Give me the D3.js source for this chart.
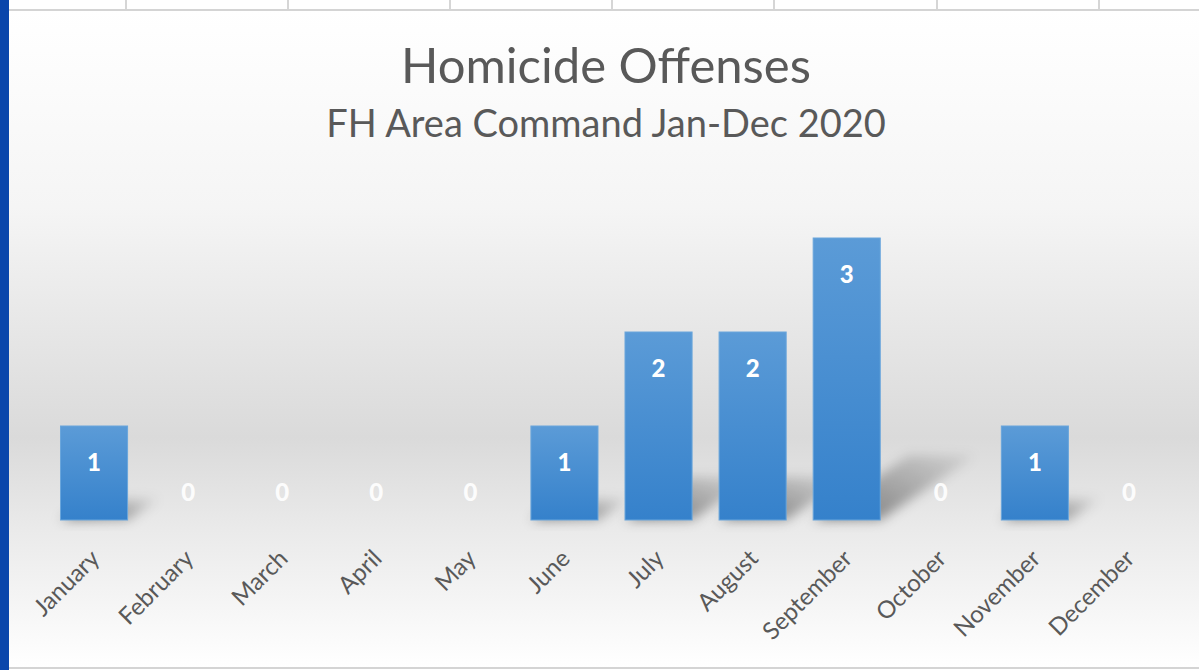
<!DOCTYPE html>
<html>
<head>
<meta charset="UTF-8">
<title>Homicide Offenses</title>
<script src="https://d3js.org/d3.v7.min.js"></script>
<style>
  body { margin: 0; background: #fff; }
  .tick line { visibility: hidden; }
  .tick text { fill: #595959; font-family: Lato, "Open Sans", sans-serif; font-size: 24px; }
</style>
</head>
<body>
<script>
var months = ["January","February","March","April","May","June","July","August","September","October","November","December"];
var counts = [1,0,0,0,0,1,2,2,3,0,1,0];
var title = "Homicide Offenses";
var subtitle = "FH Area Command Jan-Dec 2020";
var gridCols = [126, 288, 450, 612, 774, 937, 1099];

var W = 1199, H = 670;
var base = 520;

var svg = d3.select("body").append("svg")
    .attr("width", W)
    .attr("height", H);

var defs = svg.append("defs");

// chart area background (white -> gray -> white)
var bg = defs.append("linearGradient").attr("id","bg").attr("x1",0).attr("y1",0).attr("x2",0).attr("y2",1);
bg.append("stop").attr("offset","0%").attr("stop-color","#ffffff");
bg.append("stop").attr("offset","30%").attr("stop-color","#f5f5f5");
bg.append("stop").attr("offset","65%").attr("stop-color","#dadada");
bg.append("stop").attr("offset","78%").attr("stop-color","#e9e9e9");
bg.append("stop").attr("offset","100%").attr("stop-color","#ffffff");

var barGrad = defs.append("linearGradient").attr("id","barGrad").attr("x1",0).attr("y1",0).attr("x2",0).attr("y2",1);
barGrad.append("stop").attr("offset","0%").attr("stop-color","#5b9bd7");
barGrad.append("stop").attr("offset","100%").attr("stop-color","#3581cb");

var shGrad = defs.append("linearGradient").attr("id","shGrad").attr("x1",0).attr("y1",1).attr("x2",1).attr("y2",0);
shGrad.append("stop").attr("offset","0%").attr("stop-color","#000").attr("stop-opacity",0.5);
shGrad.append("stop").attr("offset","100%").attr("stop-color","#000").attr("stop-opacity",0.05);

defs.append("filter").attr("id","blur").attr("x","-50%").attr("y","-50%").attr("width","200%").attr("height","200%")
  .append("feGaussianBlur").attr("stdDeviation", 6);

svg.append("rect")
    .attr("x", 9).attr("y", 10)
    .attr("width", W - 9).attr("height", H - 12)
    .attr("fill", "url(#bg)");

// spreadsheet strip at top
svg.append("rect").attr("x", 9).attr("y", 0).attr("width", W - 9).attr("height", 10).attr("fill", "#fff");
svg.selectAll(".gcol").data(gridCols).enter().append("line")
    .attr("class","gcol")
    .attr("x1", function(d){ return d; }).attr("x2", function(d){ return d; })
    .attr("y1", 0).attr("y2", 10)
    .attr("stroke", "#d6d6d6").attr("stroke-width", 2);
svg.append("line").attr("x1", 9).attr("x2", W).attr("y1", 10).attr("y2", 10)
    .attr("stroke", "#d4d4d4").attr("stroke-width", 2);
svg.append("line").attr("x1", 9).attr("x2", W).attr("y1", 668).attr("y2", 668)
    .attr("stroke", "#d4d4d4").attr("stroke-width", 2);

// blue frame on the left
svg.append("rect").attr("x", 0).attr("y", 0).attr("width", 9).attr("height", H).attr("fill", "#0a46ab");

var x = d3.scaleBand()
    .domain(months)
    .range([47, 1176])
    .paddingInner(0.287)
    .paddingOuter(0.1435);

var y = d3.scaleLinear()
    .domain([0, 3])
    .range([base, 238]);

// titles
svg.append("text")
    .attr("x", 606).attr("y", 83)
    .attr("text-anchor", "middle")
    .style("font-family", "Lato, 'Open Sans', sans-serif")
    .style("font-size", "49px")
    .style("fill", "#595959")
    .text(title);

svg.append("text")
    .attr("x", 606).attr("y", 137)
    .attr("text-anchor", "middle")
    .style("font-family", "Lato, 'Open Sans', sans-serif")
    .style("font-size", "38px")
    .style("fill", "#595959")
    .text(subtitle);

var data = months.map(function(m, i){ return {month: m, value: counts[i]}; });

// perspective shadows
svg.selectAll(".shadow")
    .data(data.filter(function(d){ return d.value > 0; }))
    .enter().append("polygon")
    .attr("class","shadow")
    .attr("filter","url(#blur)")
    .attr("fill","url(#shGrad)")
    .attr("points", function(d){
        var x0 = x(d.month), x1 = x0 + x.bandwidth();
        var h = base - y(d.value);
        var dx = h * 0.34, dy = h * 0.23;
        return [[x0, base], [x1, base], [x1 + dx, base - dy], [x0 + dx, base - dy]].join(" ");
    });

svg.selectAll(".bar")
    .data(data)
    .enter().append("rect")
    .attr("class","bar")
    .attr("x", function(d){ return x(d.month); })
    .attr("y", function(d){ return y(d.value); })
    .attr("width", x.bandwidth())
    .attr("height", function(d){ return base - y(d.value); })
    .attr("fill", "url(#barGrad)")
    .attr("stroke", "#6aa6dc")
    .attr("stroke-width", 1);

svg.selectAll(".lbl")
    .data(data)
    .enter().append("text")
    .attr("class","lbl")
    .attr("x", function(d){ return x(d.month) + x.bandwidth() / 2; })
    .attr("y", function(d){ return d.value > 0 ? y(d.value) + 45 : base - 19; })
    .attr("text-anchor", "middle")
    .style("font-family", "Lato, 'Open Sans', sans-serif")
    .style("font-weight", "900")
    .style("font-size", "24px")
    .style("fill", "#ffffff")
    .style("fill-opacity", function(d){ return d.value > 0 ? 1 : 0.92; })
    .text(function(d){ return d.value; });

var xAxis = svg.append("g")
    .attr("transform", "translate(0," + base + ")")
    .call(d3.axisBottom(x).tickSize(0).tickPadding(0));
xAxis.select(".domain").remove();
xAxis.selectAll("text")
    .attr("text-anchor", "end")
    .attr("y", 0)
    .attr("dy", 0)
    .attr("transform", "translate(7,40) rotate(-45)");
</script>
</body>
</html>
